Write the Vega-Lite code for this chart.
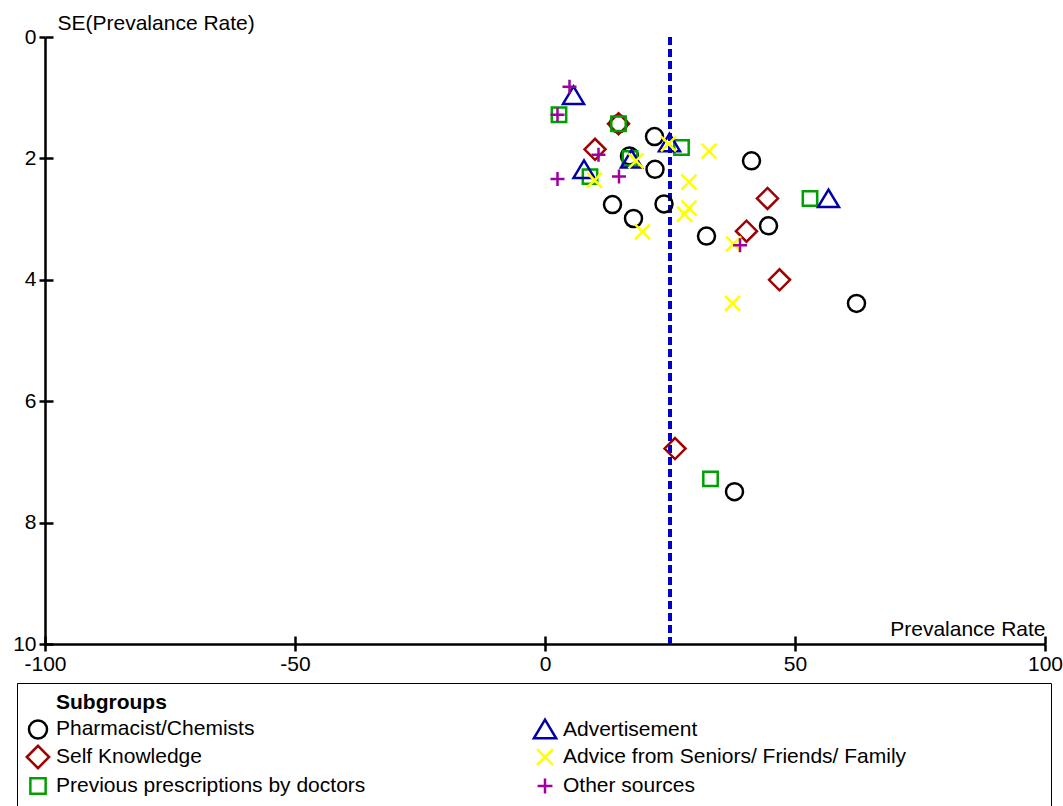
{
  "$schema": "https://vega.github.io/schema/vega-lite/v6.json",
  "autosize": {"type": "none"},
  "padding": {"left": 45, "top": 37, "right": 18, "bottom": 162},
  "width": 1000,
  "height": 607,
  "background": "white",
  "config": {"view": {"stroke": null}, "font": "Liberation Sans"},
  "data": {"values": [
    {"group": "Pharmacist/Chemists", "rate": 14.7, "se": 1.43},
    {"group": "Pharmacist/Chemists", "rate": 21.9, "se": 1.64},
    {"group": "Pharmacist/Chemists", "rate": 16.9, "se": 1.96},
    {"group": "Pharmacist/Chemists", "rate": 22.0, "se": 2.18},
    {"group": "Pharmacist/Chemists", "rate": 13.5, "se": 2.76},
    {"group": "Pharmacist/Chemists", "rate": 17.7, "se": 2.99},
    {"group": "Pharmacist/Chemists", "rate": 23.8, "se": 2.75},
    {"group": "Pharmacist/Chemists", "rate": 32.3, "se": 3.28},
    {"group": "Pharmacist/Chemists", "rate": 41.3, "se": 2.04},
    {"group": "Pharmacist/Chemists", "rate": 44.7, "se": 3.11},
    {"group": "Pharmacist/Chemists", "rate": 62.3, "se": 4.39},
    {"group": "Pharmacist/Chemists", "rate": 37.9, "se": 7.49},
    {"group": "Self Knowledge", "rate": 14.7, "se": 1.43},
    {"group": "Self Knowledge", "rate": 10.0, "se": 1.85},
    {"group": "Self Knowledge", "rate": 44.5, "se": 2.66},
    {"group": "Self Knowledge", "rate": 40.3, "se": 3.2},
    {"group": "Self Knowledge", "rate": 46.9, "se": 4.0},
    {"group": "Self Knowledge", "rate": 26.0, "se": 6.78},
    {"group": "Previous prescriptions by doctors", "rate": 2.8, "se": 1.28},
    {"group": "Previous prescriptions by doctors", "rate": 14.7, "se": 1.43},
    {"group": "Previous prescriptions by doctors", "rate": 27.3, "se": 1.82},
    {"group": "Previous prescriptions by doctors", "rate": 17.0, "se": 2.0},
    {"group": "Previous prescriptions by doctors", "rate": 9.0, "se": 2.3},
    {"group": "Previous prescriptions by doctors", "rate": 53.0, "se": 2.66},
    {"group": "Previous prescriptions by doctors", "rate": 33.1, "se": 7.28},
    {"group": "Advertisement", "rate": 5.7, "se": 0.97},
    {"group": "Advertisement", "rate": 24.9, "se": 1.75},
    {"group": "Advertisement", "rate": 17.3, "se": 2.02},
    {"group": "Advertisement", "rate": 7.8, "se": 2.19},
    {"group": "Advertisement", "rate": 56.7, "se": 2.67},
    {"group": "Advice from Seniors/ Friends/ Family", "rate": 24.7, "se": 1.76},
    {"group": "Advice from Seniors/ Friends/ Family", "rate": 32.8, "se": 1.88},
    {"group": "Advice from Seniors/ Friends/ Family", "rate": 18.2, "se": 2.04},
    {"group": "Advice from Seniors/ Friends/ Family", "rate": 9.9, "se": 2.36},
    {"group": "Advice from Seniors/ Friends/ Family", "rate": 28.8, "se": 2.39},
    {"group": "Advice from Seniors/ Friends/ Family", "rate": 28.8, "se": 2.82},
    {"group": "Advice from Seniors/ Friends/ Family", "rate": 27.9, "se": 2.92},
    {"group": "Advice from Seniors/ Friends/ Family", "rate": 19.5, "se": 3.21},
    {"group": "Advice from Seniors/ Friends/ Family", "rate": 37.7, "se": 3.41},
    {"group": "Advice from Seniors/ Friends/ Family", "rate": 37.5, "se": 4.39},
    {"group": "Other sources", "rate": 4.9, "se": 0.82},
    {"group": "Other sources", "rate": 2.5, "se": 1.28},
    {"group": "Other sources", "rate": 10.7, "se": 1.94},
    {"group": "Other sources", "rate": 2.5, "se": 2.34},
    {"group": "Other sources", "rate": 14.8, "se": 2.3},
    {"group": "Other sources", "rate": 39.0, "se": 3.43}
  ]},
  "resolve": {"axis": {"x": "independent", "y": "independent"}},
  "layer": [
    {
      "mark": {"type": "point", "opacity": 0},
      "encoding": {
        "x": {"field": "rate", "type": "quantitative",
          "scale": {"domain": [-100, 100], "nice": false, "zero": false},
          "axis": {"orient": "bottom", "values": [-100, -50, 0, 50, 100], "tickSize": -8, "tickWidth": 2.5, "tickColor": "black", "labels": false, "domain": false, "grid": false, "title": null}},
        "y": {"field": "se", "type": "quantitative",
          "scale": {"domain": [0, 10], "nice": false, "zero": false, "reverse": true},
          "axis": {"orient": "left", "values": [0, 2, 4, 6, 8, 10], "tickSize": -8, "tickWidth": 2.5, "tickColor": "black", "labels": false, "domain": false, "grid": false, "title": null}}
      }
    },
    {
      "mark": {"type": "rule", "color": "#0000c8", "strokeWidth": 2.5, "strokeDash": [8, 4]},
      "encoding": {
        "x": {"datum": 25, "type": "quantitative", "axis": null}
      }
    },
    {
      "mark": {"type": "point", "filled": false, "strokeWidth": 2.5, "size": 400, "opacity": 1},
      "encoding": {
        "x": {"field": "rate", "type": "quantitative",
          "scale": {"domain": [-100, 100], "nice": false, "zero": false},
          "axis": {"orient": "bottom", "values": [-100, -50, 0, 50, 100], "tickSize": 7, "tickWidth": 2.5, "tickColor": "black",
            "domainColor": "black", "domainWidth": 2.5, "grid": false,
            "labelExpr": "'' + datum.value",
            "labelFontSize": 21, "labelColor": "black", "labelPadding": 2, "labelFlush": false, "labelOverlap": false, "labelBound": false,
            "title": "Prevalance Rate", "titleX": 1000, "titleY": -9, "titleAlign": "right", "titleBaseline": "alphabetic",
            "titleFontSize": 21, "titleFontWeight": "normal", "titleColor": "black"}},
        "y": {"field": "se", "type": "quantitative",
          "scale": {"domain": [0, 10], "nice": false, "zero": false, "reverse": true},
          "axis": {"orient": "left", "values": [0, 2, 4, 6, 8, 10], "tickSize": 6, "tickWidth": 2.5, "tickColor": "black",
            "domainColor": "black", "domainWidth": 2.5, "grid": false,
            "labelFontSize": 21, "labelColor": "black", "labelPadding": 3, "labelFlush": false, "labelOverlap": false, "labelBound": false,
            "title": "SE(Prevalance Rate)", "titleAngle": 0, "titleX": 12, "titleY": -8, "titleAlign": "left", "titleBaseline": "alphabetic",
            "titleFontSize": 21, "titleFontWeight": "normal", "titleColor": "black"}},
        "color": {"field": "group", "type": "nominal",
          "scale": {
            "domain": ["Pharmacist/Chemists", "Self Knowledge", "Previous prescriptions by doctors", "Advertisement", "Advice from Seniors/ Friends/ Family", "Other sources"],
            "range": ["#000000", "#a00000", "#00a000", "#0000a8", "#ffff00", "#a000a0"]},
          "legend": {"orient": "none", "legendX": -28, "legendY": 646, "columns": 2, "columnPadding": 162, "rowPadding": -4,
            "strokeColor": "black", "padding": 9,
            "symbolSize": 450, "symbolStrokeWidth": 2.5, "symbolFillColor": "transparent",
            "labelFontSize": 21, "labelColor": "black", "labelOffset": 6, "labelLimit": 0,
            "labelExpr": "datum.label == 'Advice from Seniors/ Friends/ Family' ? datum.label + '\u2800\u2800\u2800\u2800\u2800\u2800\u2800\u2800\u2800' : datum.label",
            "title": "\u2800\u2800Subgroups", "titleFontSize": 21, "titleFontWeight": "bold", "titleColor": "black", "titlePadding": 4,
            "encode": {"legend": {"update": {"strokeWidth": {"value": 2}}}}}},
        "shape": {"field": "group", "type": "nominal",
          "scale": {
            "domain": ["Pharmacist/Chemists", "Self Knowledge", "Previous prescriptions by doctors", "Advertisement", "Advice from Seniors/ Friends/ Family", "Other sources"],
            "range": [
              "M-0.85,0A0.85,0.85 0 1,0 0.85,0A0.85,0.85 0 1,0 -0.85,0Z",
              "M-1.05,0L0,-1.05L1.05,0L0,1.05Z",
              "M-0.72,-0.72L0.72,-0.72L0.72,0.72L-0.72,0.72Z",
              "M0,-0.95L1.05,0.8L-1.05,0.8Z",
              "M-0.75,-0.75L0.75,0.75M-0.75,0.75L0.75,-0.75",
              "M-0.7,0L0.7,0M0,-0.7L0,0.7"
            ]},
          "legend": {"title": "\u2800\u2800Subgroups"}}
      }
    }
  ]
}
